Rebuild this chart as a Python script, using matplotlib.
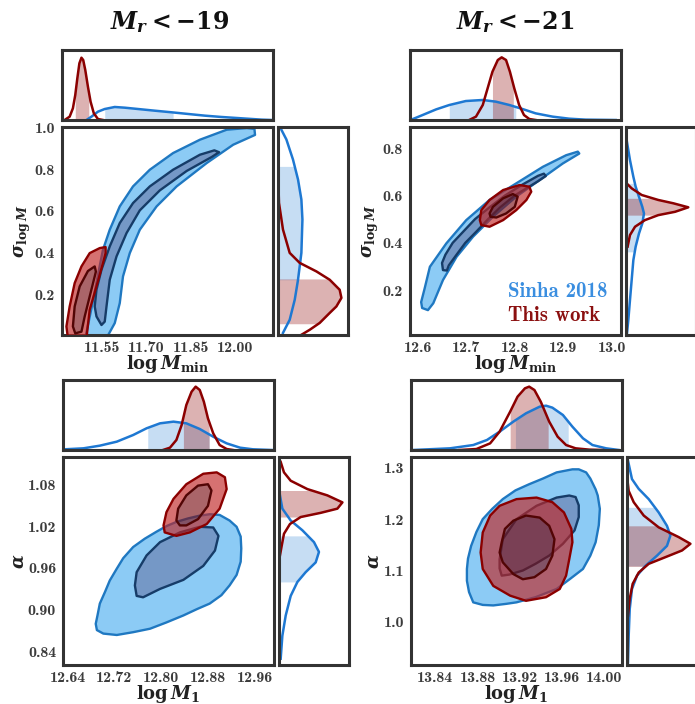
import numpy as np
import matplotlib
matplotlib.use("Agg")
import matplotlib.pyplot as plt
from matplotlib.path import Path
from matplotlib.patches import PathPatch, Polygon
from matplotlib.ticker import FormatStrFormatter

plt.rcParams['font.family'] = 'cmb10'
plt.rcParams['mathtext.fontset'] = 'custom'
plt.rcParams['mathtext.rm'] = 'DejaVu Serif:bold'
plt.rcParams['mathtext.it'] = 'DejaVu Serif:italic:bold'
plt.rcParams['mathtext.bf'] = 'DejaVu Serif:bold'
plt.rcParams['axes.unicode_minus'] = False

# ---------------- M_r < -19 : logMmin vs sigma_logM ----------------
tl_blue95 = [(11.492, -0.01), (11.513, 0.133), (11.535, 0.293), (11.552, 0.414), (11.575, 0.510),
             (11.609, 0.622), (11.654, 0.718), (11.711, 0.798), (11.790, 0.878), (11.881, 0.942),
             (11.972, 0.990), (12.040, 0.998), (12.066, 0.994), (12.068, 0.965), (11.994, 0.918),
             (11.904, 0.830), (11.802, 0.718), (11.734, 0.622), (11.677, 0.510), (11.643, 0.398),
             (11.620, 0.286), (11.609, 0.158), (11.592, 0.062), (11.564, -0.01)]
tl_blue68 = [(11.547, 0.053), (11.530, 0.094), (11.524, 0.142), (11.530, 0.222), (11.547, 0.318),
             (11.575, 0.430), (11.609, 0.542), (11.654, 0.638), (11.711, 0.718), (11.790, 0.798),
             (11.881, 0.870), (11.930, 0.891), (11.946, 0.882), (11.921, 0.859), (11.836, 0.792),
             (11.745, 0.699), (11.677, 0.603), (11.632, 0.494), (11.598, 0.382), (11.575, 0.270),
             (11.564, 0.142), (11.558, 0.069)]
tl_red95 = [(11.433, -0.01), (11.428, 0.046), (11.439, 0.142), (11.456, 0.254), (11.479, 0.334),
            (11.507, 0.398), (11.541, 0.422), (11.561, 0.427), (11.561, 0.398), (11.552, 0.350),
            (11.530, 0.238), (11.507, 0.126), (11.496, -0.01)]
tl_red68 = [(11.458, 0.013), (11.450, 0.046), (11.456, 0.142), (11.473, 0.238), (11.501, 0.312),
            (11.524, 0.334), (11.528, 0.309), (11.524, 0.286), (11.507, 0.190), (11.490, 0.094),
            (11.479, 0.021)]

tl_top_blue_x = [11.496, 11.513, 11.535, 11.558, 11.592, 11.626, 11.683, 11.728, 11.785, 11.841,
                 11.898, 11.955, 12.023, 12.091, 12.125]
tl_top_blue_h = [0, 0.048, 0.119, 0.157, 0.186, 0.176, 0.152, 0.133, 0.110, 0.086,
                 0.062, 0.043, 0.024, 0.005, 0]
tl_top_red_x = [11.422, 11.439, 11.450, 11.458, 11.465, 11.472, 11.479, 11.485, 11.492, 11.501,
                11.510, 11.521, 11.535, 11.552]
tl_top_red_h = [0, 0.048, 0.167, 0.357, 0.595, 0.81, 0.89, 0.857, 0.714, 0.476,
                0.262, 0.095, 0.014, 0]
tl_top_blue_ci = (11.558, 11.790)
tl_top_red_ci = (11.458, 11.504)

tl_right_blue_y = [1.005, 0.99, 0.943, 0.847, 0.751, 0.655, 0.559, 0.399, 0.270, 0.174, 0.078, 0.015]
tl_right_blue_h = [0.03, 0.048, 0.12, 0.214, 0.286, 0.334, 0.349, 0.334, 0.286, 0.239, 0.167, 0.071]
tl_right_red_y = [0.80, 0.639, 0.511, 0.399, 0.351, 0.310, 0.270, 0.222, 0.183, 0.142, 0.111,
                  0.063, 0.030, 0.006]
tl_right_red_h = [0.0, 0.014, 0.071, 0.167, 0.31, 0.549, 0.739, 0.881, 0.906, 0.834, 0.739,
                  0.596, 0.453, 0.334]
tl_right_blue_ci = (0.270, 0.814)
tl_right_red_ci = (0.059, 0.274)

# ---------------- M_r < -21 : logMmin vs sigma_logM ----------------
tr_blue95 = [(12.621, 0.116), (12.609, 0.125), (12.607, 0.150), (12.614, 0.206), (12.625, 0.299),
             (12.659, 0.398), (12.700, 0.496), (12.748, 0.581), (12.803, 0.651), (12.858, 0.721),
             (12.906, 0.770), (12.930, 0.785), (12.933, 0.777), (12.899, 0.735), (12.851, 0.665),
             (12.803, 0.595), (12.755, 0.510), (12.714, 0.426), (12.680, 0.341), (12.652, 0.243),
             (12.632, 0.145)]
tr_blue68 = [(12.652, 0.285), (12.650, 0.315), (12.657, 0.350), (12.672, 0.400), (12.695, 0.450),
             (12.718, 0.500), (12.748, 0.550), (12.780, 0.600), (12.815, 0.645), (12.848, 0.683),
             (12.860, 0.692), (12.864, 0.682), (12.848, 0.660), (12.800, 0.600), (12.770, 0.550),
             (12.745, 0.500), (12.722, 0.450), (12.698, 0.400), (12.680, 0.350), (12.664, 0.305),
             (12.660, 0.283)]
tr_red95 = [(12.728, 0.496), (12.731, 0.538), (12.748, 0.581), (12.776, 0.623), (12.810, 0.644),
            (12.830, 0.637), (12.834, 0.616), (12.824, 0.581), (12.803, 0.538), (12.776, 0.496),
            (12.748, 0.468), (12.731, 0.475)]
tr_red68 = [(12.748, 0.524), (12.755, 0.552), (12.776, 0.588), (12.796, 0.606), (12.806, 0.595),
            (12.800, 0.552), (12.782, 0.524), (12.762, 0.507), (12.750, 0.510)]

tr_top_blue_x = [12.584, 12.590, 12.610, 12.638, 12.665, 12.699, 12.734, 12.761, 12.789, 12.816,
                 12.843, 12.878, 12.912, 12.946, 13.008]
tr_top_blue_h = [0.005, 0.014, 0.071, 0.152, 0.214, 0.271, 0.286, 0.262, 0.214, 0.157,
                 0.095, 0.048, 0.019, 0.005, 0]
tr_top_red_x = [12.706, 12.720, 12.734, 12.744, 12.754, 12.765, 12.773, 12.782, 12.790, 12.799,
                12.809, 12.819, 12.830, 12.843]
tr_top_red_h = [0, 0.048, 0.214, 0.452, 0.690, 0.857, 0.895, 0.857, 0.690, 0.452,
                0.214, 0.071, 0.014, 0]
tr_top_blue_ci = (12.665, 12.802)
tr_top_red_ci = (12.754, 12.797)

tr_right_blue_y = [0.834, 0.749, 0.679, 0.637, 0.594, 0.552, 0.524, 0.482, 0.440, 0.384, 0.327,
                   0.243, 0.159, 0.074, 0.018]
tr_right_blue_h = [0.009, 0.057, 0.105, 0.138, 0.186, 0.233, 0.257, 0.233, 0.186, 0.138, 0.105,
                   0.081, 0.057, 0.033, 0.014]
tr_right_red_y = [0.651, 0.630, 0.602, 0.581, 0.567, 0.550, 0.531, 0.517, 0.496, 0.468, 0.433, 0.384]
tr_right_red_h = [0.009, 0.081, 0.224, 0.461, 0.676, 0.89, 0.700, 0.461, 0.271, 0.129, 0.057, 0.023]
tr_right_blue_ci = (0.362, 0.651)
tr_right_red_ci = (0.517, 0.588)

# ---------------- M_r < -19 : logM1 vs alpha ----------------
bl_blue95 = [(12.690, 0.871), (12.701, 0.866), (12.724, 0.864), (12.752, 0.868), (12.781, 0.873),
             (12.809, 0.882), (12.838, 0.892), (12.861, 0.901), (12.883, 0.909), (12.903, 0.921),
             (12.917, 0.935), (12.929, 0.950), (12.936, 0.969), (12.937, 0.988), (12.936, 1.005),
             (12.929, 1.019), (12.917, 1.028), (12.900, 1.036), (12.883, 1.037), (12.866, 1.035),
             (12.846, 1.031), (12.826, 1.026), (12.809, 1.020), (12.792, 1.012), (12.772, 1.002),
             (12.752, 0.990), (12.735, 0.974), (12.724, 0.959), (12.712, 0.942), (12.704, 0.926),
             (12.695, 0.909), (12.691, 0.892), (12.688, 0.880)]
bl_blue68 = [(12.755, 0.935), (12.758, 0.920), (12.769, 0.918), (12.798, 0.930), (12.838, 0.943),
             (12.872, 0.963), (12.892, 0.985), (12.898, 1.006), (12.889, 1.018), (12.866, 1.019),
             (12.832, 1.011), (12.798, 0.997), (12.775, 0.978), (12.758, 0.954)]
bl_red95 = [(12.804, 1.021), (12.806, 1.011), (12.826, 1.006), (12.849, 1.011), (12.878, 1.023),
            (12.900, 1.045), (12.912, 1.073), (12.909, 1.090), (12.895, 1.097), (12.872, 1.095),
            (12.843, 1.080), (12.821, 1.059), (12.809, 1.040)]
bl_red68 = [(12.826, 1.028), (12.829, 1.045), (12.843, 1.064), (12.863, 1.078), (12.880, 1.080),
            (12.886, 1.071), (12.880, 1.049), (12.863, 1.030), (12.843, 1.021), (12.832, 1.021)]

bl_top_blue_x = [12.635, 12.667, 12.695, 12.724, 12.752, 12.775, 12.798, 12.821, 12.843, 12.866,
                 12.889, 12.912, 12.935, 12.957, 12.989]
bl_top_blue_h = [0.01, 0.024, 0.062, 0.119, 0.214, 0.310, 0.381, 0.405, 0.381, 0.300,
                 0.190, 0.095, 0.033, 0.010, 0]
bl_top_red_x = [12.803, 12.815, 12.826, 12.835, 12.843, 12.852, 12.859, 12.866, 12.873, 12.880,
                12.889, 12.900, 12.912, 12.923]
bl_top_red_h = [0, 0.033, 0.143, 0.357, 0.643, 0.833, 0.905, 0.857, 0.690, 0.452,
                0.238, 0.071, 0.014, 0]
bl_top_blue_ci = (12.777, 12.882)
bl_top_red_ci = (12.838, 12.882)

bl_right_blue_y = [1.064, 1.045, 1.028, 1.014, 0.997, 0.983, 0.968, 0.954, 0.940, 0.920, 0.892,
                   0.863, 0.830]
bl_right_blue_h = [0.014, 0.048, 0.167, 0.334, 0.5, 0.571, 0.524, 0.381, 0.263, 0.167, 0.096,
                   0.048, 0.024]
bl_right_red_y = [1.112, 1.097, 1.085, 1.073, 1.064, 1.054, 1.045, 1.039, 1.033, 1.023, 1.009,
                  0.992, 0.978]
bl_right_red_h = [0.024, 0.071, 0.167, 0.406, 0.691, 0.906, 0.834, 0.596, 0.310, 0.157, 0.071,
                  0.039, 0.014]
bl_right_blue_ci = (0.940, 1.006)
bl_right_red_ci = (1.033, 1.071)

# ---------------- M_r < -21 : logM1 vs alpha ----------------
br_blue95 = [(13.870, 1.080), (13.872, 1.058), (13.876, 1.038), (13.885, 1.033), (13.895, 1.032),
             (13.907, 1.035), (13.917, 1.038), (13.935, 1.048), (13.955, 1.064), (13.968, 1.084),
             (13.980, 1.103), (13.987, 1.129), (13.992, 1.155), (13.995, 1.188), (13.996, 1.220),
             (13.994, 1.246), (13.992, 1.258), (13.987, 1.279), (13.983, 1.291), (13.976, 1.297),
             (13.970, 1.297), (13.955, 1.291), (13.942, 1.279), (13.929, 1.268), (13.916, 1.256),
             (13.904, 1.239), (13.894, 1.220), (13.885, 1.200), (13.879, 1.175), (13.874, 1.148),
             (13.871, 1.123), (13.870, 1.103)]
br_blue68 = [(13.901, 1.122), (13.901, 1.104), (13.903, 1.090), (13.910, 1.092), (13.923, 1.100),
             (13.935, 1.113), (13.948, 1.129), (13.961, 1.152), (13.972, 1.178), (13.976, 1.204),
             (13.976, 1.227), (13.973, 1.243), (13.967, 1.246), (13.955, 1.242), (13.936, 1.226),
             (13.917, 1.200), (13.904, 1.161)]
br_red95 = [(13.883, 1.135), (13.885, 1.174), (13.892, 1.207), (13.901, 1.226), (13.917, 1.239),
            (13.936, 1.242), (13.951, 1.233), (13.962, 1.213), (13.969, 1.181), (13.970, 1.155),
            (13.967, 1.122), (13.964, 1.090), (13.958, 1.064), (13.945, 1.048), (13.926, 1.041),
            (13.911, 1.051), (13.895, 1.070), (13.885, 1.103)]
br_red68 = [(13.901, 1.135), (13.903, 1.155), (13.906, 1.181), (13.914, 1.197), (13.926, 1.207),
            (13.939, 1.203), (13.948, 1.187), (13.953, 1.161), (13.951, 1.129), (13.945, 1.103),
            (13.934, 1.087), (13.923, 1.083), (13.914, 1.093), (13.904, 1.116)]

br_top_blue_x = [13.819, 13.854, 13.876, 13.889, 13.901, 13.914, 13.926, 13.939, 13.945, 13.951,
                 13.961, 13.970, 13.980, 13.989, 14.002, 14.014]
br_top_blue_h = [0, 0.024, 0.071, 0.143, 0.262, 0.405, 0.524, 0.619, 0.633, 0.605,
                 0.5, 0.333, 0.167, 0.071, 0.024, 0]
br_top_red_x = [13.863, 13.879, 13.892, 13.901, 13.911, 13.918, 13.925, 13.929, 13.934, 13.940,
                13.948, 13.956, 13.964, 13.973, 13.986, 13.999]
br_top_red_h = [0, 0.014, 0.095, 0.262, 0.548, 0.762, 0.881, 0.905, 0.857, 0.690,
                0.405, 0.190, 0.071, 0.024, 0.005, 0]
br_top_blue_ci = (13.916, 13.966)
br_top_red_ci = (13.911, 13.947)

br_right_blue_y = [1.314, 1.278, 1.259, 1.239, 1.213, 1.187, 1.168, 1.148, 1.129, 1.109, 1.090,
                   1.064, 1.025, 0.973, 0.921]
br_right_blue_h = [0.014, 0.071, 0.167, 0.31, 0.453, 0.571, 0.62, 0.571, 0.429, 0.263, 0.143,
                   0.071, 0.039, 0.024, 0.014]
br_right_red_y = [1.278, 1.255, 1.233, 1.207, 1.184, 1.165, 1.152, 1.139, 1.126, 1.113, 1.096,
                  1.074, 1.045, 1.012]
br_right_red_h = [0.005, 0.024, 0.096, 0.239, 0.453, 0.739, 0.906, 0.786, 0.549, 0.310, 0.167,
                  0.081, 0.039, 0.014]
br_right_blue_ci = (1.109, 1.223)
br_right_red_ci = (1.108, 1.187)

titles = [r'$M_r<-19$', r'$M_r<-21$']
legend_labels = ['Sinha 2018', 'This work']

# colours
SPINE = '#333333'
TICK = '#3c3c3c'
BLUE_LINE = '#1e78d2'
RED_LINE = '#8b0000'
BLUE_OUT_FILL, BLUE_IN_FILL = '#8ccbf5', '#7598c6'
BLUE_OUT_EDGE, BLUE_IN_EDGE = '#1f78c1', '#163c68'
RED_OUT_FILL, RED_IN_FILL = '#c12525', '#7d1219'
RED_OUT_EDGE, RED_IN_EDGE = '#8b0000', '#520505'


def signed_area(p):
    return 0.5 * np.sum(p[:, 0] * np.roll(p[:, 1], -1) - np.roll(p[:, 0], -1) * p[:, 1])


def band(ax, outer, inner, fc_out, fc_in, ec_out, ec_in, alpha, z):
    o = np.array(outer, float)
    i = np.array(inner, float)
    if signed_area(o) * signed_area(i) > 0:
        i = i[::-1]
    verts = np.vstack([o, o[:1], i, i[:1]])
    codes = ([Path.MOVETO] + [Path.LINETO] * (len(o) - 1) + [Path.CLOSEPOLY]
             + [Path.MOVETO] + [Path.LINETO] * (len(i) - 1) + [Path.CLOSEPOLY])
    ax.add_patch(PathPatch(Path(verts, codes), fc=fc_out, ec='none', alpha=alpha, zorder=z))
    ax.add_patch(Polygon(i, closed=True, fc=fc_in, ec='none', alpha=alpha, zorder=z))
    ax.add_patch(Polygon(o, closed=True, fill=False, ec=ec_out, lw=1.7, joinstyle='round', zorder=z + 0.5))
    ax.add_patch(Polygon(i, closed=True, fill=False, ec=ec_in, lw=1.7, joinstyle='round', zorder=z + 0.5))


def frame(ax):
    for s in ax.spines.values():
        s.set_color(SPINE)
        s.set_linewidth(2.2)


def top_marg(ax, x, h, ci, color, alpha):
    x = np.asarray(x, float)
    h = np.asarray(h, float)
    lo, hi = ci
    m = (x > lo) & (x < hi)
    xs = np.concatenate([[lo], x[m], [hi]])
    hs = np.concatenate([[np.interp(lo, x, h)], h[m], [np.interp(hi, x, h)]])
    ax.fill_between(xs, 0, hs, color=color, alpha=alpha, lw=0)
    ax.plot(x, h, color=color, lw=1.8, solid_joinstyle='round')


def right_marg(ax, y, h, ci, color, alpha):
    y = np.asarray(y, float)
    h = np.asarray(h, float)
    order = np.argsort(y)
    ys, hs0 = y[order], h[order]
    lo, hi = ci
    m = (ys > lo) & (ys < hi)
    yy = np.concatenate([[lo], ys[m], [hi]])
    hh = np.concatenate([[np.interp(lo, ys, hs0)], hs0[m], [np.interp(hi, ys, hs0)]])
    ax.fill_betweenx(yy, 0, hh, color=color, alpha=alpha, lw=0)
    ax.plot(h, y, color=color, lw=1.8, solid_joinstyle='round')


fig = plt.figure(figsize=(6.95, 7.04), dpi=100)

W, H = 695.0, 704.0
panels = [
    dict(px=62, py=127, blue=(tl_blue95, tl_blue68), red=(tl_red95, tl_red68),
         top=(tl_top_blue_x, tl_top_blue_h, tl_top_blue_ci, tl_top_red_x, tl_top_red_h, tl_top_red_ci),
         right=(tl_right_blue_y, tl_right_blue_h, tl_right_blue_ci, tl_right_red_y, tl_right_red_h, tl_right_red_ci),
         xlim=(11.413, 12.129), ylim=(0.005, 1.003),
         xticks=[11.55, 11.70, 11.85, 12.00], yticks=[0.2, 0.4, 0.6, 0.8, 1.0],
         xfmt='%.2f', yfmt='%.1f', xlabel=r'$\log M_{\rm min}$', ylabel=r'$\sigma_{\log M}$'),
    dict(px=410, py=127, blue=(tr_blue95, tr_blue68), red=(tr_red95, tr_red68),
         top=(tr_top_blue_x, tr_top_blue_h, tr_top_blue_ci, tr_top_red_x, tr_top_red_h, tr_top_red_ci),
         right=(tr_right_blue_y, tr_right_blue_h, tr_right_blue_ci, tr_right_red_y, tr_right_red_h, tr_right_red_ci),
         xlim=(12.584, 13.019), ylim=(0.011, 0.889),
         xticks=[12.6, 12.7, 12.8, 12.9, 13.0], yticks=[0.2, 0.4, 0.6, 0.8],
         xfmt='%.1f', yfmt='%.1f', xlabel=r'$\log M_{\rm min}$', ylabel=r'$\sigma_{\log M}$'),
    dict(px=63, py=457, blue=(bl_blue95, bl_blue68), red=(bl_red95, bl_red68),
         top=(bl_top_blue_x, bl_top_blue_h, bl_top_blue_ci, bl_top_red_x, bl_top_red_h, bl_top_red_ci),
         right=(bl_right_blue_y, bl_right_blue_h, bl_right_blue_ci, bl_right_red_y, bl_right_red_h, bl_right_red_ci),
         xlim=(12.632, 12.993), ylim=(0.821, 1.119),
         xticks=[12.64, 12.72, 12.80, 12.88, 12.96], yticks=[0.84, 0.90, 0.96, 1.02, 1.08],
         xfmt='%.2f', yfmt='%.2f', xlabel=r'$\log M_1$', ylabel=r'$\alpha$'),
    dict(px=411, py=457, blue=(br_blue95, br_blue68), red=(br_red95, br_red68),
         top=(br_top_blue_x, br_top_blue_h, br_top_blue_ci, br_top_red_x, br_top_red_h, br_top_red_ci),
         right=(br_right_blue_y, br_right_blue_h, br_right_blue_ci, br_right_red_y, br_right_red_h, br_right_red_ci),
         xlim=(13.817, 14.017), ylim=(0.916, 1.321),
         xticks=[13.84, 13.88, 13.92, 13.96, 14.00], yticks=[1.0, 1.1, 1.2, 1.3],
         xfmt='%.2f', yfmt='%.1f', xlabel=r'$\log M_1$', ylabel=r'$\alpha$'),
]

mw, mh = 211.0, 208.0
for k, p in enumerate(panels):
    x0, y0 = p['px'], p['py']
    ax = fig.add_axes([x0 / W, 1 - (y0 + mh) / H, mw / W, mh / H])
    axt = fig.add_axes([x0 / W, 1 - (y0 - 7) / H, mw / W, 70 / H])
    axr = fig.add_axes([(x0 + 216) / W, 1 - (y0 + mh) / H, 70 / W, mh / H])

    band(ax, p['blue'][0], p['blue'][1], BLUE_OUT_FILL, BLUE_IN_FILL, BLUE_OUT_EDGE, BLUE_IN_EDGE, 1.0, 2)
    band(ax, p['red'][0], p['red'][1], RED_OUT_FILL, RED_IN_FILL, RED_OUT_EDGE, RED_IN_EDGE, 0.65, 4)
    ax.set_xlim(*p['xlim'])
    ax.set_ylim(*p['ylim'])
    ax.set_xticks(p['xticks'])
    ax.set_yticks(p['yticks'])
    ax.xaxis.set_major_formatter(FormatStrFormatter(p['xfmt']))
    ax.yaxis.set_major_formatter(FormatStrFormatter(p['yfmt']))
    ax.tick_params(length=0, labelsize=11.5, labelcolor=TICK)
    ax.tick_params(axis='x', pad=4)
    ax.tick_params(axis='y', pad=5)
    ax.set_xlabel(p['xlabel'], fontsize=13, color='#222222', labelpad=-1)
    ax.set_ylabel(p['ylabel'], fontsize=13, color='#222222', labelpad=1)
    frame(ax)

    bx, bh, bci, rx, rh, rci = p['top']
    top_marg(axt, bx, bh, bci, BLUE_LINE, 0.25)
    top_marg(axt, rx, rh, rci, RED_LINE, 0.3)
    axt.set_xlim(*p['xlim'])
    axt.set_ylim(0, 1)
    axt.set_xticks([])
    axt.set_yticks([])
    frame(axt)

    by, bh2, bci2, ry, rh2, rci2 = p['right']
    right_marg(axr, by, bh2, bci2, BLUE_LINE, 0.25)
    right_marg(axr, ry, rh2, rci2, RED_LINE, 0.3)
    axr.set_ylim(*p['ylim'])
    axr.set_xlim(0, 1)
    axr.set_xticks([])
    axr.set_yticks([])
    frame(axr)

    if k == 1:
        ax.text(0.464, 0.21, legend_labels[0], transform=ax.transAxes, color='#3a8ee0',
                fontsize=15, va='center', ha='left')
        ax.text(0.464, 0.096, legend_labels[1], transform=ax.transAxes, color='#8b1010',
                fontsize=15, va='center', ha='left')

fig.text(170 / W, 1 - 22 / H, titles[0], ha='center', va='center', fontsize=17, color='#111111')
fig.text(515 / W, 1 - 22 / H, titles[1], ha='center', va='center', fontsize=17, color='#111111')

fig.savefig('out.png', dpi=100)
